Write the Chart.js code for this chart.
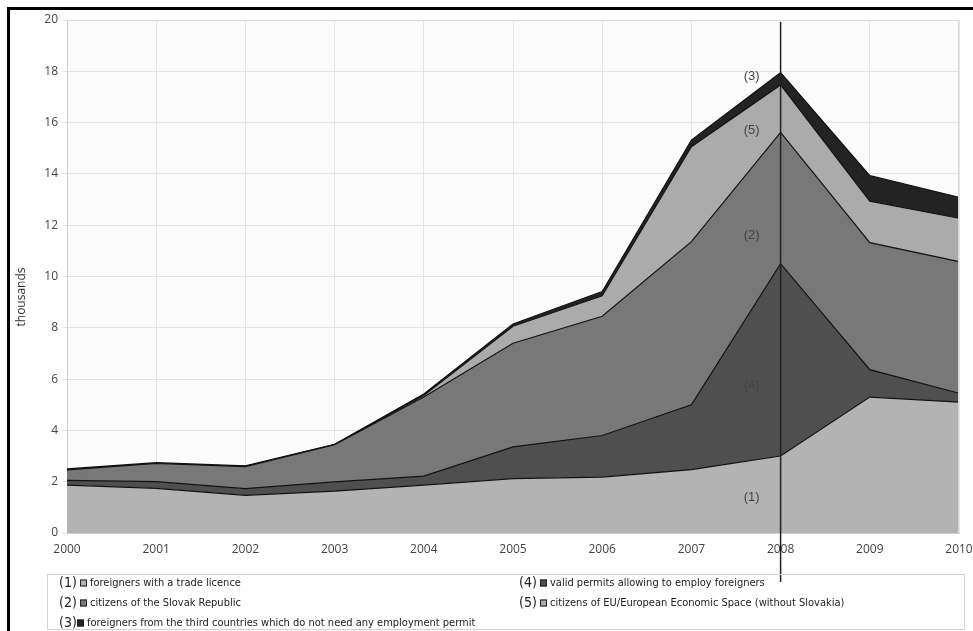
<!DOCTYPE html>
<html>
<head>
<meta charset="utf-8">
<script src="https://cdn.jsdelivr.net/npm/chart.js@4.4.1/dist/chart.umd.min.js"></script>
<style>
  html, body { margin: 0; padding: 0; background: #fff; }
  #c { display: block; }
</style>
</head>
<body>
<canvas id="c" width="973" height="631"></canvas>
<script>
"use strict";

// --- data (thousands) ---
const years = ['2000', '2001', '2002', '2003', '2004', '2005', '2006', '2007', '2008', '2009', '2010'];
const tradeLicence   = [1.87, 1.74, 1.47, 1.63, 1.87, 2.12, 2.18, 2.47, 3.00, 5.30, 5.10]; // (1)
const validPermits   = [0.18, 0.26, 0.26, 0.36, 0.35, 1.24, 1.62, 2.53, 7.50, 1.07, 0.35]; // (4)
const slovakCitizens = [0.41, 0.71, 0.86, 1.45, 3.08, 4.04, 4.65, 6.36, 5.12, 4.95, 5.13]; // (2)
const euCitizens     = [0.00, 0.00, 0.00, 0.00, 0.06, 0.66, 0.80, 3.70, 1.85, 1.62, 1.69]; // (5)
const thirdCountries = [0.04, 0.03, 0.03, 0.02, 0.06, 0.09, 0.16, 0.26, 0.48, 0.99, 0.82]; // (3)
const yTicks = [0, 2, 4, 6, 8, 10, 12, 14, 16, 18, 20];

// area labels drawn left of the 2008 line: [text, y value]
const areaLabels = [['(3)', 17.8], ['(5)', 15.7], ['(2)', 11.6], ['(4)', 5.75], ['(1)', 1.4]];

// legend rows: [number, colour, text, column, row]
const legendItems = [
    ['(1)', '#b3b3b3', 'foreigners with a trade licence', 0, 0],
    ['(2)', '#787878', 'citizens of the Slovak Republic', 0, 1],
    ['(3)', '#232323', 'foreigners from the third countries which do not need any employment permit', 0, 2],
    ['(4)', '#4f4f4f', 'valid permits allowing to employ foreigners', 1, 0],
    ['(5)', '#ababab', 'citizens of EU/European Economic Space (without Slovakia)', 1, 1]
];

const TICK_FONT = { family: '"Open Sans", Arial, sans-serif', size: 12 };

function layer(label, data, color, fill) {
    return {
        label, data,
        backgroundColor: color,
        borderColor: '#111',
        borderWidth: 1.2,
        fill,
        tension: 0,
        pointRadius: 0,
        pointHoverRadius: 0
    };
}

const framePlugin = {
    id: 'frame',
    beforeDraw(chart) {
        const { ctx, chartArea: a } = chart;
        ctx.save();
        ctx.fillStyle = '#fbfbfb';
        ctx.fillRect(a.left, a.top, a.right - a.left, a.bottom - a.top);
        ctx.restore();
    },
    afterDraw(chart) {
        const { ctx, chartArea: a } = chart;
        const xs = chart.scales.x, ys = chart.scales.y;
        ctx.save();

        // outer black frame (left + top)
        ctx.fillStyle = '#000';
        ctx.fillRect(7, 7, 973 - 7, 3);
        ctx.fillRect(7, 7, 3, 631 - 7);

        // plot border top/right
        ctx.strokeStyle = '#d8d8d8';
        ctx.lineWidth = 1;
        ctx.beginPath();
        ctx.moveTo(a.left, a.top + 0.5);
        ctx.lineTo(a.right - 0.5, a.top + 0.5);
        ctx.lineTo(a.right - 0.5, a.bottom);
        ctx.stroke();

        // y title
        ctx.fillStyle = '#333';
        ctx.font = '12px "Open Sans", Arial, sans-serif';
        ctx.translate(22, 297);
        ctx.rotate(-Math.PI / 2);
        ctx.textAlign = 'center';
        ctx.textBaseline = 'middle';
        ctx.fillText('thousands', 0, 0);
        ctx.setTransform(1, 0, 0, 1, 0, 0);

        // vertical line at 2008
        const x08 = xs.getPixelForValue(years.indexOf('2008'));
        ctx.strokeStyle = '#222';
        ctx.lineWidth = 1.5;
        ctx.beginPath();
        ctx.moveTo(x08, 22);
        ctx.lineTo(x08, 582);
        ctx.stroke();

        // area labels
        ctx.fillStyle = '#444';
        ctx.font = '13px Arial, "Liberation Sans", sans-serif';
        ctx.textAlign = 'center';
        ctx.textBaseline = 'middle';
        areaLabels.forEach(([t, v]) => ctx.fillText(t, x08 - 29, ys.getPixelForValue(v)));

        // legend box
        ctx.strokeStyle = '#d4d4d4';
        ctx.lineWidth = 1;
        ctx.strokeRect(47.5, 574.5, 917, 55);
        const rowY = [583, 603, 623];
        const colX = [59, 519];
        legendItems.forEach(([num, color, text, col, row]) => {
            const x = colX[col];
            const y = rowY[row];
            ctx.fillStyle = '#222';
            ctx.font = '14px "Liberation Sans Narrow", "DejaVu Sans Condensed", Arial, sans-serif';
            ctx.textAlign = 'left';
            ctx.textBaseline = 'middle';
            ctx.fillText(num, x, y);
            const sx = num === '(3)' ? x + 18 : x + 21;
            ctx.fillStyle = color;
            ctx.fillRect(sx, y - 3.5, 7, 7);
            ctx.strokeStyle = '#222';
            ctx.lineWidth = 1;
            ctx.strokeRect(sx + 0.5, y - 3, 6, 6);
            ctx.fillStyle = '#222';
            ctx.font = '11px "Liberation Sans Narrow", "DejaVu Sans Condensed", Arial, sans-serif';
            ctx.fillText(text, sx + 10, y);
        });
        ctx.restore();
    }
};

new Chart(document.getElementById('c'), {
    type: 'line',
    data: {
        labels: years,
        datasets: [
            layer('foreigners with a trade licence', tradeLicence, '#b3b3b3', 'origin'),
            layer('valid permits allowing to employ foreigners', validPermits, '#4f4f4f', '-1'),
            layer('citizens of the Slovak Republic', slovakCitizens, '#787878', '-1'),
            layer('citizens of EU/European Economic Space (without Slovakia)', euCitizens, '#ababab', '-1'),
            layer('foreigners from the third countries which do not need any employment permit', thirdCountries, '#232323', '-1')
        ]
    },
    options: {
        responsive: false,
        animation: false,
        devicePixelRatio: 1,
        layout: { padding: { left: 0, top: 20, right: 0, bottom: 68 } },
        plugins: { legend: { display: false }, tooltip: { enabled: false } },
        scales: {
            x: {
                offset: false,
                grid: { color: '#e4e4e4', drawTicks: false },
                border: { color: '#cfcfcf' },
                ticks: { color: '#444', font: TICK_FONT, padding: 9, maxRotation: 0, autoSkip: false },
                afterFit(scale) { scale.height = 30; scale.paddingRight = 14; }
            },
            y: {
                stacked: true,
                min: 0, max: 20,
                afterBuildTicks(scale) { scale.ticks = yTicks.map(v => ({ value: v })); },
                grid: { color: '#e4e4e4', tickLength: 5 },
                border: { color: '#cfcfcf' },
                ticks: { color: '#444', font: TICK_FONT, padding: 4 },
                afterFit(scale) { scale.width = 67; }
            }
        }
    },
    plugins: [framePlugin]
});
</script>
</body>
</html>
